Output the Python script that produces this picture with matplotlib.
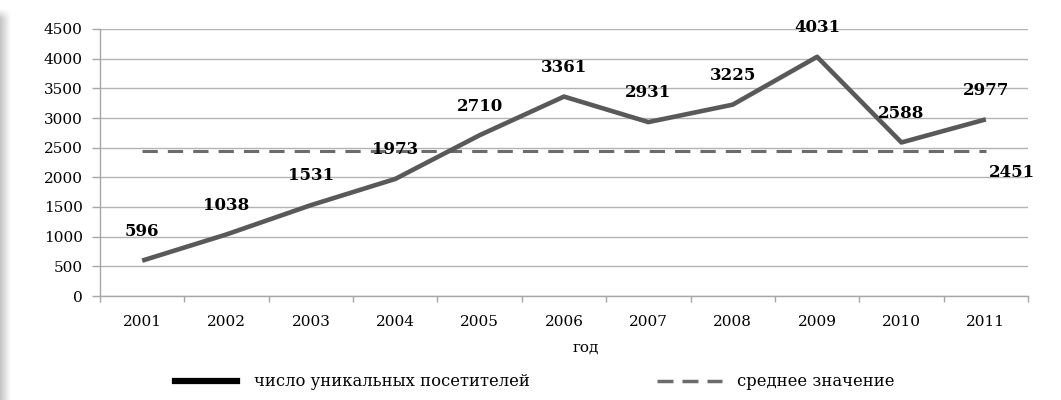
import numpy as np
import matplotlib
matplotlib.use("Agg")
import matplotlib.pyplot as plt
from matplotlib.lines import Line2D

# данные с графика
years = ["2001", "2002", "2003", "2004", "2005", "2006",
         "2007", "2008", "2009", "2010", "2011"]
visitors = [596, 1038, 1531, 1973, 2710, 3361, 2931, 3225, 4031, 2588, 2977]
mean_value = 2451
y_ticks = [0, 500, 1000, 1500, 2000, 2500, 3000, 3500, 4000, 4500]

plt.rcParams['font.family'] = ['DejaVu Serif']

W, H = 1061, 400
fig = plt.figure(figsize=(W / 100, H / 100), dpi=100)

# серая тень слева
sh = fig.add_axes([0, 0, 11 / W, 1 - 8 / H])
hor = np.linspace(0.84, 1.0, 22) ** 1.5
vert = np.ones(200)
vert[:6] = np.linspace(0, 1, 6)
grad = 1 - np.outer(vert, 1 - hor)
sh.imshow(grad, cmap="gray", vmin=0, vmax=1, aspect="auto", interpolation="bilinear")
sh.axis("off")

ax = fig.add_axes([100 / W, 1 - 296 / H, 928 / W, 267 / H])
x = np.arange(len(years))

ax.plot(x, visitors, color="#595959", lw=3.3, solid_capstyle="butt", zorder=3)
ax.plot(x, [mean_value] * len(years), color="#6b6b6b", lw=2.2,
        linestyle=(0, (5, 3.3)), zorder=2)

for xi, v in zip(x, visitors):
    ax.annotate(str(v), (xi, v), xytext=(0, 21), textcoords="offset points",
                ha="center", va="center", fontsize=12, fontweight="bold")
ax.annotate(str(mean_value), (x[-1], mean_value), xytext=(19, -16),
            textcoords="offset points", ha="center", va="center",
            fontsize=12, fontweight="bold")

ax.set_xlim(-0.5, len(years) - 0.5)
ax.set_ylim(0, 4500)
ax.set_yticks(y_ticks)
ax.set_xticks(x)
ax.set_xticklabels(years)
ax.set_xticks(np.arange(-0.5, len(years)), minor=True)
ax.tick_params(axis="x", which="major", length=0, pad=14, labelsize=11)
ax.tick_params(axis="x", which="minor", length=4, width=1, color="#a6a6a6",
               direction="out")
ax.tick_params(axis="y", length=5.5, width=1, color="#a6a6a6", pad=7,
               labelsize=11)
ax.grid(axis="y", color="#b3b3b3", lw=1)
ax.set_axisbelow(True)
for s in ["top", "right"]:
    ax.spines[s].set_visible(False)
for s in ["left", "bottom"]:
    ax.spines[s].set_color("#a6a6a6")
    ax.spines[s].set_linewidth(1)

fig.text(586 / W, 1 - 348 / H, "год", ha="center", va="center", fontsize=11)

# легенда: две отдельные записи
fig.legend([Line2D([], [], color="black", lw=4.5)],
           ["число уникальных посетителей"],
           loc="center left", bbox_to_anchor=(175 / W, 1 - 382 / H),
           frameon=False, fontsize=11.8, borderpad=0, borderaxespad=0,
           handlelength=3.8, handletextpad=1.0)
fig.legend([Line2D([], [], color="#6b6b6b", lw=2.5, linestyle=(0, (4.6, 2.6)))],
           ["среднее значение"],
           loc="center left", bbox_to_anchor=(657 / W, 1 - 382 / H),
           frameon=False, fontsize=11.8, borderpad=0, borderaxespad=0,
           handlelength=3.96, handletextpad=0.9)

fig.savefig("out.png", dpi=100)
